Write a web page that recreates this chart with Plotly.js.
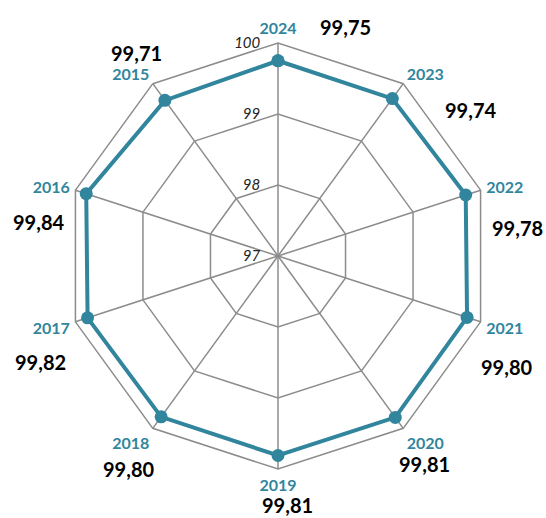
<!DOCTYPE html>
<html><head><meta charset="utf-8">
<script src="https://cdn.plot.ly/plotly-3.0.1.min.js"></script>
<style>html,body{margin:0;padding:0;background:#fff}#chart{width:546px;height:518px}</style>
</head><body><div id="chart"></div>
<script>
const categories = ["2024","2023","2022","2021","2020","2019","2018","2017","2016","2015"];
const values = [99.75,99.74,99.78,99.80,99.81,99.81,99.80,99.82,99.84,99.71];
const valueLabels = ["99,75","99,74","99,78","99,80","99,81","99,81","99,80","99,82","99,84","99,71"];
const radialTicks = [97,98,99,100];
// label placement in pixels (style only)
const labelPx = [[345,27],[470,110],[517,228],[506,367],[424,464],[287,505],[128,469],[40,362],[38,222],[136,53]];

const W=546,H=518, cx=278, cy=256, R=213;
const teal = "#31859c", grid = "#8c8c8c";

const trace = {
  type:"scatterpolar", r: values.concat([values[0]]), theta: categories.concat([categories[0]]),
  mode:"lines+markers",
  line:{color:teal, width:4}, marker:{color:teal, size:13},
  hoverinfo:"skip", cliponaxis:false
};
const annotations = valueLabels.map((t,i)=>({
  text:t, xref:"paper", yref:"paper", x:labelPx[i][0]/W, y:1-labelPx[i][1]/H,
  xanchor:"center", yanchor:"middle", showarrow:false,
  font:{family:"Lato, 'Open Sans', sans-serif", size:20, color:"#000", weight:"bold"}
}));
const layout = {
  width:W, height:H, margin:{l:0,r:0,t:0,b:0}, showlegend:false,
  paper_bgcolor:"#fff",
  polar:{
    domain:{x:[(cx-R)/W,(cx+R)/W], y:[(H-cy-R)/H,(H-cy+R)/H]},
    gridshape:"linear", bgcolor:"rgba(0,0,0,0)",
    radialaxis:{range:[97,100], tickvals:radialTicks, ticktext:radialTicks.map(String),
      angle:90, tickangle:90, side:"counterclockwise", showline:false,
      ticks:"outside", ticklen:12, tickcolor:"rgba(0,0,0,0)", gridcolor:grid, gridwidth:1.5,
      tickfont:{family:"Lato, 'Open Sans', sans-serif", size:15, color:"#222", style:"italic"}},
    angularaxis:{type:"category", direction:"clockwise", rotation:90, categoryorder:"array", categoryarray:categories,
      showline:true, linecolor:grid, linewidth:1.5, gridcolor:grid, gridwidth:1.5,
      ticks:"outside", ticklen:2, tickcolor:"rgba(0,0,0,0)",
      tickfont:{family:"Lato, 'Open Sans', sans-serif", size:16, color:teal, weight:"bold"}}
  },
  annotations
};
Plotly.newPlot("chart",[trace],layout,{displayModeBar:false, staticPlot:true});
</script></body></html>
